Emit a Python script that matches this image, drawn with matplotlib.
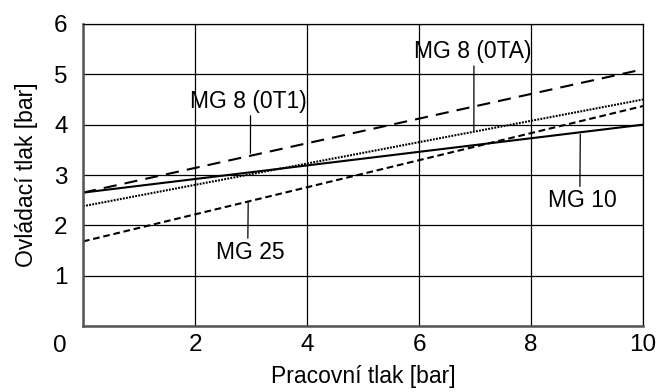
import matplotlib
matplotlib.use("Agg")
import matplotlib.pyplot as plt

plt.rcParams['font.family'] = ['Liberation Sans', 'DejaVu Sans']

# Data
x = [0, 10]
mg10 = [2.65, 4.0]
mg8_0t1 = [2.65, 5.1]
mg8_0ta = [2.38, 4.5]
mg25 = [1.68, 4.37]

xticks = [0, 2, 4, 6, 8, 10]
xticklabels = ['', '2', '4', '6', '8', '10']
yticks = [0, 1, 2, 3, 4, 5, 6]
yticklabels = ['', '1', '2', '3', '4', '5', '6']

FS = 16.5
TFS = 17.5

fig = plt.figure(figsize=(6.6, 3.92), dpi=100)
ax = fig.add_axes([83/660, 1-326/392, 560/660, 302/392])

ax.plot(x, mg10, color='black', lw=1.5, solid_capstyle='butt')
ax.plot(x, mg8_0t1, color='black', lw=1.5, linestyle=(0, (6.3, 3.9)))
ax.plot(x, mg8_0ta, color='black', lw=1.5, linestyle=(0, (0.9, 0.6)))
ax.plot(x, mg25, color='black', lw=1.5, linestyle=(0, (3.2, 1.8)))

ax.set_xlim(0, 10)
ax.set_ylim(0, 6)
ax.set_xticks(xticks)
ax.set_xticklabels(xticklabels)
ax.set_yticks(yticks)
ax.set_yticklabels(yticklabels)
ax.tick_params(axis='x', length=0, labelsize=TFS, pad=6)
ax.tick_params(axis='y', length=0, labelsize=TFS, pad=11)
ax.grid(True, color='black', lw=0.9)
ax.set_axisbelow(True)

# shared origin label
ax.text(-23/560, -20/302, '0', transform=ax.transAxes, ha='center', va='center',
        fontsize=TFS)

for s in ['top', 'right']:
    ax.spines[s].set_linewidth(0.9)
    ax.spines[s].set_color('black')
for s in ['left', 'bottom']:
    ax.spines[s].set_linewidth(1.8)
    ax.spines[s].set_color('#555555')

ax.set_xlabel('Pracovní tlak [bar]', fontsize=FS, labelpad=6)
ax.set_ylabel('Ovládací tlak [bar]', fontsize=FS, labelpad=12)

ap = dict(arrowstyle='-', color='black', lw=0.9, shrinkA=0, shrinkB=0)
ax.annotate('MG 8 (0T1)', xy=(2.99, 3.43), xytext=(2.95, 4.46),
            ha='center', va='center', fontsize=FS,
            arrowprops=dict(ap, relpos=(0.52, 0.0)))
ax.annotate('MG 8 (0TA)', xy=(6.98, 3.88), xytext=(6.96, 5.45),
            ha='center', va='center', fontsize=FS,
            arrowprops=dict(ap, relpos=(0.51, 0.0)))
ax.annotate('MG 10', xy=(8.88, 3.81), xytext=(8.91, 2.49),
            ha='center', va='center', fontsize=FS,
            arrowprops=dict(ap, relpos=(0.47, 1.0)))
ax.annotate('MG 25', xy=(2.95, 2.47), xytext=(2.98, 1.46),
            ha='center', va='center', fontsize=FS,
            arrowprops=dict(ap, relpos=(0.47, 1.0)))

fig.savefig('out.png', dpi=100)
